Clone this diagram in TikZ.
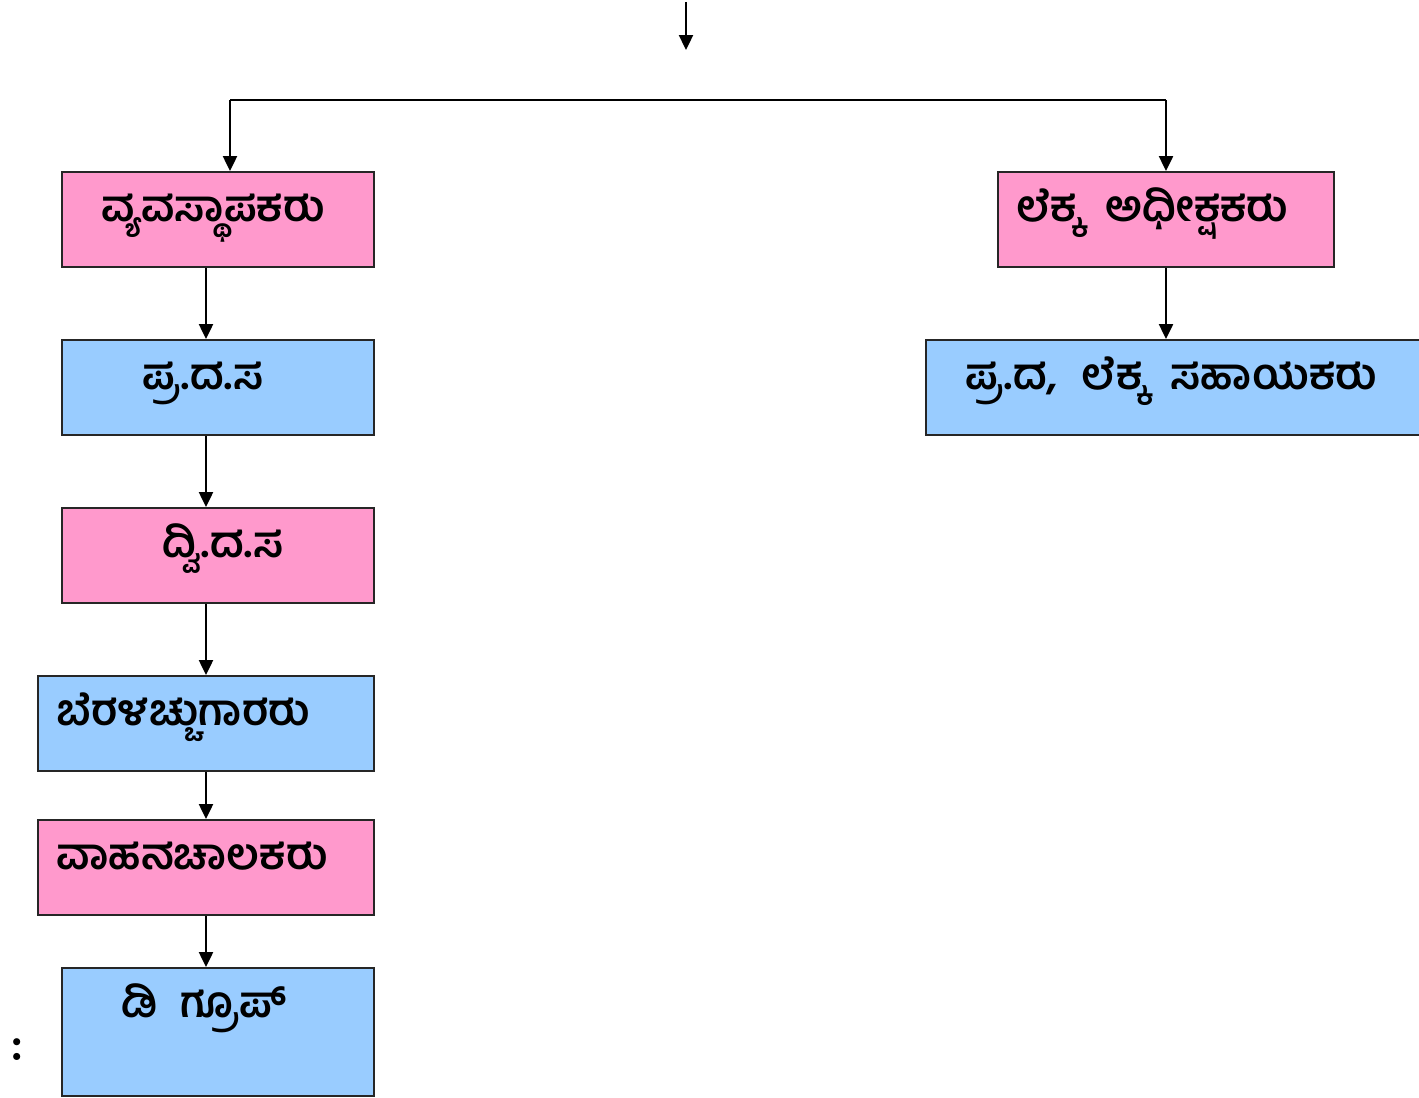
\documentclass[tikz,border=0pt]{standalone}
\usepackage{fontspec}
\newfontfamily\kanfont[Script=Kannada,WordSpace=2.2]{Hind Mysuru}
\usetikzlibrary{arrows.meta,calc}
\definecolor{boxpink}{HTML}{FF99CC}
\definecolor{boxblue}{HTML}{99CCFF}

\begin{document}
\begin{tikzpicture}[x=0.02cm,y=-0.02cm,
    post/.style={draw=black!85,line width=1.1pt,inner sep=0pt,anchor=center,minimum height=95*0.02cm},
    kan/.style={font=\kanfont\bfseries\fontsize{24.5}{28}\selectfont,anchor=base west,inner sep=0pt},
    wire/.style={line width=1.1pt},
    link/.style={wire,-{Triangle[width=8pt,length=8.5pt]}}]
  \useasboundingbox (0,0) rectangle (1419,1098);
  % boxes
  \node[post,fill=boxpink,minimum width=312*0.02cm] (mgr) at (218,219.5) {};
  \node[post,fill=boxblue,minimum width=312*0.02cm] (fda) at (218,387.5) {};
  \node[post,fill=boxpink,minimum width=312*0.02cm] (sda) at (218,555.5) {};
  \node[post,fill=boxblue,minimum width=336*0.02cm] (typ) at (206,723.5) {};
  \node[post,fill=boxpink,minimum width=336*0.02cm] (drv) at (206,867.5) {};
  \node[post,fill=boxblue,minimum width=312*0.02cm,minimum height=128*0.02cm] (grpd) at (218,1032) {};
  \node[post,fill=boxpink,minimum width=336*0.02cm] (acc) at (1166,219.5) {};
  \node[post,fill=boxblue,minimum width=510*0.02cm] (asst) at (1181,387.5) {};
  % texts
  \node[kan] (mgr-t) at ($(mgr.north west)+(40,50)$) {ವ್ಯವಸ್ಥಾಪಕರು};
  \node[kan] (fda-t) at ($(fda.north west)+(81,50)$) {ಪ್ರ.ದ.ಸ};
  \node[kan] (sda-t) at ($(sda.north west)+(101,50)$) {ದ್ವಿ.ದ.ಸ};
  \node[kan] (typ-t) at ($(typ.north west)+(19,50)$) {ಬೆರಳಚ್ಚುಗಾರರು};
  \node[kan] (drv-t) at ($(drv.north west)+(19,50)$) {ವಾಹನಚಾಲಕರು};
  \node[kan] (grpd-t) at ($(grpd.north west)+(60,50)$) {ಡಿ ಗ್ರೂಪ್};
  \node[kan] (acc-t) at ($(acc.north west)+(19,50)$) {ಲೆಕ್ಕ ಅಧೀಕ್ಷಕರು};
  \node[kan] (asst-t) at ($(asst.north west)+(40,50)$) {ಪ್ರ.ದ, ಲೆಕ್ಕ ಸಹಾಯಕರು};
  \node[font=\bfseries\fontsize{28}{32}\selectfont,inner sep=0pt] (dots) at (17,1050) {:};
  % connectors
  \coordinate (top) at (686,2);
  \coordinate (topend) at (686,50);
  \coordinate (bus-l) at (230,100);
  \coordinate (bus-r) at (1166,100);
  \coordinate (spine) at (206,0);
  \draw[link] (top) -- (topend);
  \draw[wire] (bus-l) -- (bus-r);
  \draw[link] (bus-l) -- (bus-l |- mgr.north);
  \draw[link] (bus-r) -- (bus-r |- acc.north);
  \draw[link] (spine |- mgr.south) -- (spine |- fda.north);
  \draw[link] (spine |- fda.south) -- (spine |- sda.north);
  \draw[link] (spine |- sda.south) -- (spine |- typ.north);
  \draw[link] (spine |- typ.south) -- (spine |- drv.north);
  \draw[link] (spine |- drv.south) -- (spine |- grpd.north);
  \draw[link] (acc.south) -- (acc.south |- asst.north);
\end{tikzpicture}
\end{document}
